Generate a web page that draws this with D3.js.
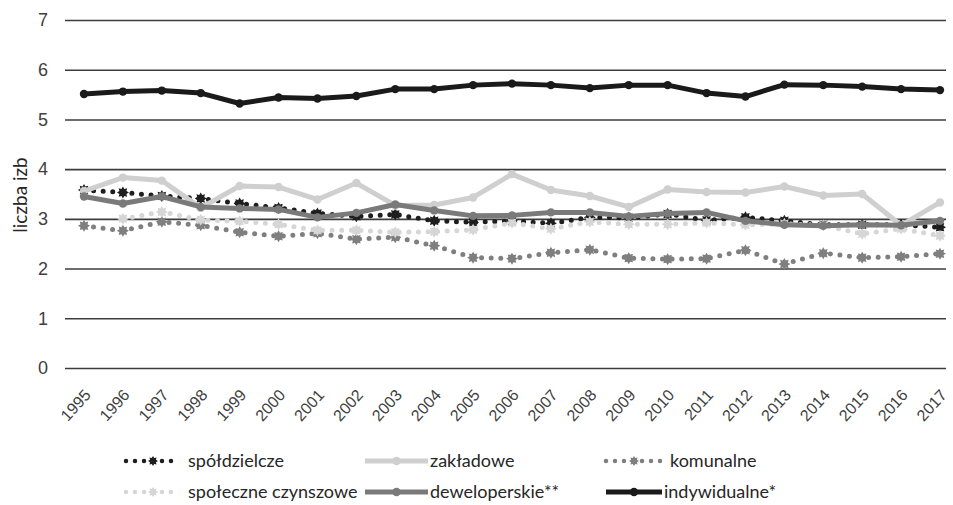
<!DOCTYPE html>
<html>
<head>
<meta charset="utf-8">
<script src="https://cdn.jsdelivr.net/npm/d3@7"></script>
<style>
  html, body { margin: 0; padding: 0; background: #fff; }
  svg { display: block; font-family: Lato, "Open Sans", sans-serif; }
</style>
</head>
<body>
<svg id="chart" width="953" height="505"></svg>
<script>
// Years on the category axis
const years = ["1995","1996","1997","1998","1999","2000","2001","2002","2003","2004","2005","2006",
               "2007","2008","2009","2010","2011","2012","2013","2014","2015","2016","2017"];

// Average number of rooms per dwelling, by form of construction
const spoldzielcze = [3.58,3.53,3.46,3.41,3.31,3.22,3.11,3.05,3.09,2.96,2.93,2.96,2.91,3.03,3.02,3.10,2.97,3.03,2.96,2.88,2.88,2.88,2.83];
const zakladowe    = [3.56,3.83,3.77,3.22,3.66,3.64,3.39,3.72,3.27,3.28,3.43,3.90,3.58,3.46,3.24,3.59,3.54,3.53,3.65,3.47,3.50,2.87,3.33];
const komunalne    = [2.86,2.76,2.94,2.87,2.73,2.65,2.71,2.59,2.63,2.46,2.22,2.20,2.32,2.38,2.21,2.19,2.20,2.37,2.09,2.31,2.22,2.24,2.30];
const spoleczne    = [null,3.00,3.14,2.98,2.95,2.89,2.77,2.77,2.73,2.74,2.78,2.92,2.80,2.94,2.89,2.89,2.92,2.88,2.90,2.87,2.70,2.80,2.66];
const deweloperskie= [3.45,3.31,3.45,3.24,3.21,3.19,3.03,3.12,3.29,3.17,3.06,3.07,3.13,3.13,3.05,3.11,3.13,2.96,2.88,2.86,2.88,2.87,2.96];
const indywidualne = [5.51,5.56,5.58,5.53,5.32,5.44,5.42,5.47,5.61,5.61,5.69,5.72,5.69,5.63,5.69,5.69,5.53,5.46,5.70,5.69,5.66,5.61,5.59];

const yTicks = [0,1,2,3,4,5,6,7];
const yLabel = "liczba izb";

// Series styling (drawing order = stacking order)
const series = [
  { name: "spółdzielcze",        values: spoldzielcze,  color: "#1e1e1e", dotted: true  },
  { name: "zakładowe",           values: zakladowe,     color: "#cfcfcf", dotted: false },
  { name: "komunalne",           values: komunalne,     color: "#7f7f7f", dotted: true  },
  { name: "społeczne czynszowe", values: spoleczne,     color: "#d6d6d6", dotted: true  },
  { name: "deweloperskie**",     values: deweloperskie, color: "#7a7a7a", dotted: false },
  { name: "indywidualne*",       values: indywidualne,  color: "#1a1a1a", dotted: false }
];

const svg = d3.select("#chart");
const plotLeft = 65, plotRight = 946, plotTop = 20, plotBottom = 368;

const x = d3.scalePoint().domain(years).range([84, 940]);
const y = d3.scaleLinear().domain([0, 7]).range([plotBottom, plotTop]);

// Horizontal gridlines with value labels
const yAxis = svg.append("g")
  .attr("transform", `translate(${plotLeft},0)`)
  .call(d3.axisLeft(y).tickValues(yTicks).tickSize(-(plotRight - plotLeft)).tickPadding(17).tickFormat(d3.format("d")));
yAxis.select(".domain").remove();
yAxis.selectAll(".tick line").attr("stroke", "#3c3c3c").attr("stroke-width", 1.6);
yAxis.selectAll(".tick text").attr("fill", "#404040").style("font-size", "18px");

svg.append("text")
  .attr("transform", `translate(27,195) rotate(-90)`)
  .attr("text-anchor", "middle")
  .attr("fill", "#262626")
  .style("font-size", "19px")
  .text(yLabel);

// Year labels, rotated
const xAxis = svg.append("g")
  .attr("transform", `translate(0,${plotBottom})`)
  .call(d3.axisBottom(x).tickSize(0).tickPadding(0));
xAxis.select(".domain").remove();
xAxis.selectAll(".tick text")
  .attr("fill", "#404040")
  .style("font-size", "16px")
  .attr("text-anchor", "end")
  .attr("transform", "translate(3,24) rotate(-48)")
  .attr("dy", "0.35em");

const line = d3.line()
  .defined(d => d.v != null)
  .x(d => x(d.year))
  .y(d => y(d.v));

// Eight-pointed star marker
function markerPath(rOut, rIn) {
  const pts = d3.range(16).map(i => {
    const a = i * Math.PI / 8 - Math.PI / 2;
    const r = i % 2 === 0 ? rOut : rIn;
    return [r * Math.cos(a), r * Math.sin(a)];
  });
  return d3.line().curve(d3.curveLinearClosed)(pts);
}

series.forEach(s => {
  const pts = years.map((yr, i) => ({ year: yr, v: s.values[i] }));
  const g = svg.append("g");
  const path = g.append("path")
    .datum(pts)
    .attr("d", line)
    .attr("fill", "none")
    .attr("stroke", s.color)
    .attr("stroke-linejoin", "round");
  if (s.dotted) {
    path.attr("stroke-width", 5).attr("stroke-linecap", "round").attr("stroke-dasharray", "0,9.6");
    g.selectAll("path.m").data(pts.filter(d => d.v != null)).join("path")
      .attr("class", "m")
      .attr("d", markerPath(6, 3.8))
      .attr("transform", d => `translate(${x(d.year)},${y(d.v)})`)
      .attr("fill", s.color);
  } else {
    path.attr("stroke-width", 5);
    g.selectAll("circle").data(pts.filter(d => d.v != null)).join("circle")
      .attr("cx", d => x(d.year))
      .attr("cy", d => y(d.v))
      .attr("r", 4.2)
      .attr("fill", s.color);
  }
});

// Legend: three columns, two rows
const legendCols = [126, 365, 606];
const legendSymW = [54, 63, 56];
const legendRows = [461, 492];
series.forEach((s, i) => {
  const col = i % 3, row = Math.floor(i / 3);
  const x0 = legendCols[col], w = legendSymW[col], yy = legendRows[row];
  const g = svg.append("g");
  if (s.dotted) {
    g.append("line")
      .attr("x1", x0).attr("x2", x0 + w).attr("y1", yy).attr("y2", yy)
      .attr("stroke", s.color).attr("stroke-width", 4.5)
      .attr("stroke-linecap", "round").attr("stroke-dasharray", "0,9");
    g.append("path")
      .attr("d", markerPath(5, 3.2))
      .attr("transform", `translate(${x0 + w / 2},${yy})`)
      .attr("fill", s.color);
  } else {
    g.append("line")
      .attr("x1", x0).attr("x2", x0 + w).attr("y1", yy).attr("y2", yy)
      .attr("stroke", s.color).attr("stroke-width", 5);
    g.append("circle")
      .attr("cx", x0 + w / 2).attr("cy", yy).attr("r", 4.2).attr("fill", s.color);
  }
  g.append("text")
    .attr("x", x0 + w + (s.dotted ? 8 : 2))
    .attr("y", yy)
    .attr("dy", "0.35em")
    .attr("fill", "#262626")
    .style("font-size", "18px")
    .text(s.name);
});
</script>
</body>
</html>
